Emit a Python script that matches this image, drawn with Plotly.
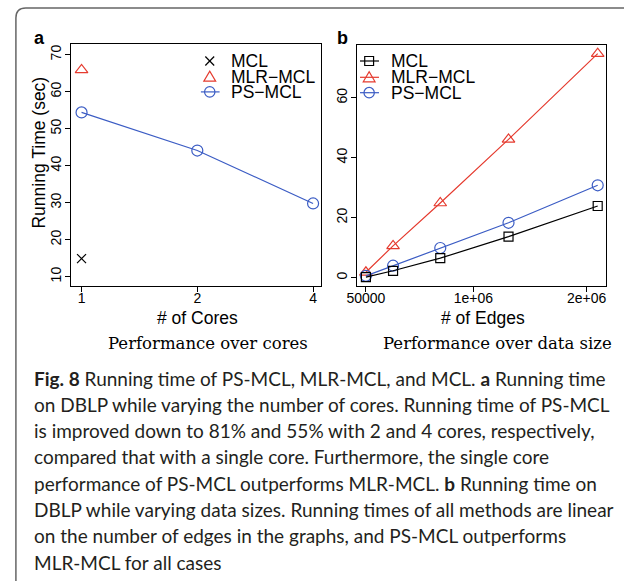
import plotly.graph_objects as go

W, H = 624, 581

# ---------------- data ----------------
cores = [1, 2, 4]
cores_ticktext = ["1", "2", "4"]
ps_mcl_cores = [54.4, 44.1, 29.8]
mlr_mcl_cores = [65.9]          # single core only
mcl_cores = [14.9]              # single core only

edges = [50000, 290000, 707000, 1310000, 2098000]
mcl_edges = [0.2, 2.3, 6.5, 13.7, 23.9]
mlr_mcl_edges = [1.8, 10.6, 24.9, 46.1, 74.7]
ps_mcl_edges = [0.6, 4.0, 9.9, 18.3, 30.8]

ya_ticks = [10, 20, 30, 40, 50, 60, 70]
yb_ticks = [0, 20, 40, 60]
xb_ticks = [50000, 1000000, 2000000]
xb_ticktext = ["50000", "1e+06", "2e+06"]

caption_lines = [
    "<b>Fig. 8</b> Running time of PS-MCL, MLR-MCL, and MCL. <b>a</b> Running time",
    "on DBLP while varying the number of cores. Running time of PS-MCL",
    "is improved down to 81% and 55% with 2 and 4 cores, respectively,",
    "compared that with a single core. Furthermore, the single core",
    "performance of PS-MCL outperforms MLR-MCL. <b>b</b> Running time on",
    "DBLP while varying data sizes. Running times of all methods are linear",
    "on the number of edges in the graphs, and PS-MCL outperforms",
    "MLR-MCL for all cases",
]

# ---------------- style ----------------
RED = "#E53B2F"
BLUE = "#3B5CC4"
BLACK = "#000000"
SANS = "Liberation Sans, Arial, sans-serif"
SERIF = "DejaVu Serif, serif"
CAP = "Lato, sans-serif"


def X(px):
    return px / W


def Y(py):
    return 1 - py / H


fig = go.Figure()

# panel a
fig.add_trace(go.Scatter(x=cores, y=ps_mcl_cores, mode="lines+markers",
                         line=dict(color=BLUE, width=1.2),
                         marker=dict(symbol="circle-open", size=11, color=BLUE, line=dict(width=1.2)),
                         xaxis="x", yaxis="y", name="PS-MCL"))
fig.add_trace(go.Scatter(x=cores[:1], y=mlr_mcl_cores, mode="markers",
                         marker=dict(symbol="triangle-up-open", size=11, color=RED, line=dict(width=1.2)),
                         xaxis="x", yaxis="y", name="MLR-MCL"))
fig.add_trace(go.Scatter(x=cores[:1], y=mcl_cores, mode="markers",
                         marker=dict(symbol="x-thin-open", size=9, color=BLACK, line=dict(width=1.2, color=BLACK)),
                         xaxis="x", yaxis="y", name="MCL"))

# panel b
fig.add_trace(go.Scatter(x=edges, y=mlr_mcl_edges, mode="lines+markers",
                         line=dict(color=RED, width=1.2),
                         marker=dict(symbol="triangle-up-open", size=11, color=RED, line=dict(width=1.2)),
                         xaxis="x2", yaxis="y2", name="MLR-MCL"))
fig.add_trace(go.Scatter(x=edges, y=ps_mcl_edges, mode="lines+markers",
                         line=dict(color=BLUE, width=1.2),
                         marker=dict(symbol="circle-open", size=11, color=BLUE, line=dict(width=1.2)),
                         xaxis="x2", yaxis="y2", name="PS-MCL"))
fig.add_trace(go.Scatter(x=edges, y=mcl_edges, mode="lines+markers",
                         line=dict(color=BLACK, width=1.2),
                         marker=dict(symbol="square-open", size=9, color=BLACK, line=dict(width=1.2)),
                         xaxis="x2", yaxis="y2", name="MCL"))

axis_common = dict(showline=True, mirror=True, linecolor="black", linewidth=1,
                   ticks="outside", ticklen=5, tickwidth=1, tickcolor="black",
                   showgrid=False, zeroline=False,
                   tickfont=dict(family=SANS, size=14, color="black"))

fig.update_layout(
    width=W, height=H,
    margin=dict(l=0, r=0, t=0, b=0),
    paper_bgcolor="white", plot_bgcolor="white",
    showlegend=False,
    xaxis=dict(domain=[X(62), X(316)], type="log", range=[-0.0274, 0.6225],
               tickvals=cores, ticktext=cores_ticktext, anchor="y",
               ticklabelstandoff=-6, **axis_common),
    yaxis=dict(domain=[Y(286), Y(44)], range=[7.49, 72.89], tickvals=ya_ticks,
               tickangle=-90, anchor="x", ticklabelstandoff=-2, **axis_common),
    xaxis2=dict(domain=[X(352.3), X(606)], range=[-31700, 2173900],
                tickvals=xb_ticks, ticktext=xb_ticktext, anchor="y2",
                ticklabelstandoff=-6, **axis_common),
    yaxis2=dict(domain=[Y(285.7), Y(45)], range=[-2.67, 77.57], tickvals=yb_ticks,
                tickangle=-90, anchor="x2", ticklabelstandoff=-2, **axis_common),
)

ann = []
shapes = []


def text(x, y, s, size, family=SANS, xanchor="center", yanchor="middle", angle=0,
         color="black"):
    ann.append(dict(x=X(x), y=Y(y), xref="paper", yref="paper", text=s, showarrow=False,
                    xanchor=xanchor, yanchor=yanchor, textangle=angle,
                    font=dict(family=family, size=size, color=color)))


# panel labels
text(30, 38, "<b>a</b>", 18)
text(338, 38, "<b>b</b>", 18)

# axis titles
text(29, 153, "Running Time (sec)", 17.5, angle=-90)
text(191, 318, "# of Cores", 17.5)
text(481, 318, "# of Edges", 17.5)

# sub captions
text(201, 343, "Performance over cores", 16.5, family=SERIF)
text(495.5, 343, "Performance over data size", 16.5, family=SERIF)

# caption
for i, line in enumerate(caption_lines):
    text(22, 378 + i * 26.3, line, 19, family=CAP, xanchor="left", color="#231f20")


# ---------------- legend keys (decorations) ----------------
def seg(x0, y0, x1, y1, color, w=1.2):
    shapes.append(dict(type="line", xref="paper", yref="paper",
                       x0=X(x0), y0=Y(y0), x1=X(x1), y1=Y(y1),
                       line=dict(color=color, width=w)))


def circ(cx, cy, d, color):
    shapes.append(dict(type="circle", xref="paper", yref="paper",
                       x0=X(cx - d / 2), x1=X(cx + d / 2), y0=Y(cy + d / 2), y1=Y(cy - d / 2),
                       line=dict(color=color, width=1.2)))


def tri(cx, cy, color):
    p = "M {} {} L {} {} L {} {} Z".format(X(cx - 6), Y(cy + 4.5), X(cx + 6), Y(cy + 4.5), X(cx), Y(cy - 5.5))
    shapes.append(dict(type="path", xref="paper", yref="paper", path=p,
                       line=dict(color=color, width=1.2)))


def sq(cx, cy, color):
    shapes.append(dict(type="rect", xref="paper", yref="paper",
                       x0=X(cx - 4.5), x1=X(cx + 4.5), y0=Y(cy + 4.5), y1=Y(cy - 4.5),
                       line=dict(color=color, width=1.2)))


def xmark(cx, cy, color):
    seg(cx - 4.5, cy - 4.5, cx + 4.5, cy + 4.5, color)
    seg(cx - 4.5, cy + 4.5, cx + 4.5, cy - 4.5, color)


# legend a
la_rows = [61, 76.7, 91.9]
xmark(203, la_rows[0], BLACK)
tri(203, la_rows[1], RED)
seg(194, la_rows[2], 213, la_rows[2], BLUE)
circ(203, la_rows[2], 10.5, BLUE)
for r, name in zip(la_rows, ["MCL", "MLR\u2212MCL", "PS\u2212MCL"]):
    text(223, r, name, 17.5, xanchor="left")

# legend b
lb_rows = [61, 77.3, 92.7]
seg(355.7, lb_rows[0], 375, lb_rows[0], BLACK)
sq(365, lb_rows[0], BLACK)
seg(355.7, lb_rows[1], 375, lb_rows[1], RED)
tri(365, lb_rows[1], RED)
seg(355.7, lb_rows[2], 375, lb_rows[2], BLUE)
circ(365, lb_rows[2], 10.5, BLUE)
for r, name in zip(lb_rows, ["MCL", "MLR\u2212MCL", "PS\u2212MCL"]):
    text(385, r, name, 17.5, xanchor="left")

# rounded page border (top and left)
border = "M {} {} L {} {} Q {} {} {} {} L {} {}".format(
    X(6), Y(585), X(6), Y(18), X(6), Y(8), X(16), Y(8), X(630), Y(8))
shapes.append(dict(type="path", xref="paper", yref="paper", path=border,
                   line=dict(color="#666666", width=1.5)))

fig.update_layout(annotations=ann, shapes=shapes)

fig.write_html(
    "out.html",
    config={"displayModeBar": False},
    post_script="document.body.style.margin='0';document.body.style.overflow='hidden';",
)
